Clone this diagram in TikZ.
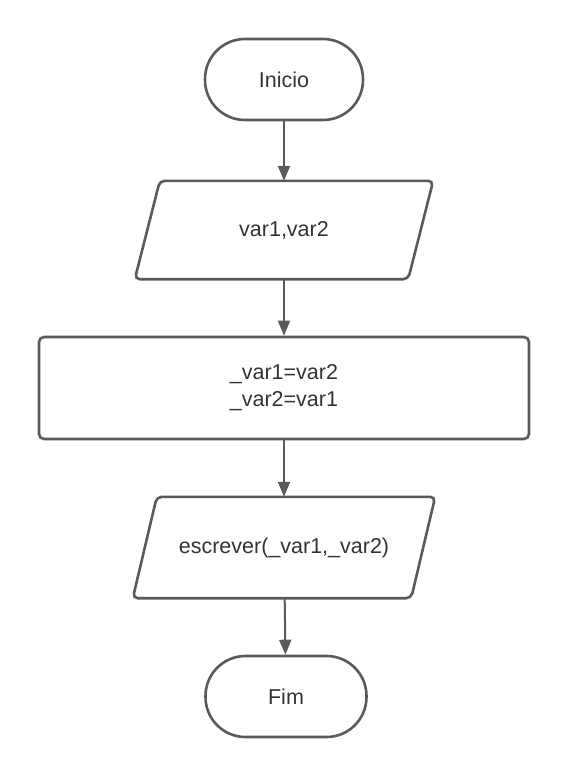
\documentclass[tikz,border=0pt]{standalone}
\usepackage{fontspec}
\setmainfont{Liberation Sans}
\usetikzlibrary{calc,arrows.meta}
\definecolor{strokec}{HTML}{5A5A5A}
\definecolor{textc}{HTML}{333333}
\tikzset{
  x=1pt,y=1pt,
  base/.style={text=textc, font=\fontsize{21.5}{27}\selectfont, align=center, inner sep=0pt},
  term/.style={base, draw=strokec, line width=2.6pt, rectangle, rounded corners=40pt, minimum height=81pt},
  iobox/.style={base, rectangle},
  ioline/.style={draw=strokec, line width=2.6pt, rounded corners=5pt},
  procbox/.style={base, draw=strokec, line width=2.6pt, rectangle, rounded corners=5pt, minimum width=490pt, minimum height=102pt},
  conn/.style={draw=strokec, line width=2pt, -{Triangle[length=15pt,width=12pt]}}
}
\begin{document}
\begin{tikzpicture}
\useasboundingbox (0,0) rectangle (569,-776);
\node[term, minimum width=158pt] (t1) at (284,-79.5) {Inicio};
\node[iobox, minimum width=298pt, minimum height=98pt] (p1) at (284,-230) {var1,var2};
\draw[ioline] ($(p1.north west)+(25,0)$) -- (p1.north east) -- ($(p1.south east)+(-25,0)$) -- (p1.south west) -- cycle;
\node[procbox] (r1) at (284,-388) {\_var1=var2\\\_var2=var1};
\node[iobox, minimum width=302pt, minimum height=101pt] (p2) at (284,-547.5) {escrever(\_var1,\_var2)};
\draw[ioline] ($(p2.north west)+(24,0)$) -- (p2.north east) -- ($(p2.south east)+(-24,0)$) -- (p2.south west) -- cycle;
\node[term, minimum width=161pt] (t2) at (286,-696.5) {Fim};
\draw[conn] (t1) -- (p1);
\draw[conn] (p1) -- (r1);
\draw[conn] (r1) -- (p2);
\draw[conn] (p2) -- (t2);
\end{tikzpicture}
\end{document}
